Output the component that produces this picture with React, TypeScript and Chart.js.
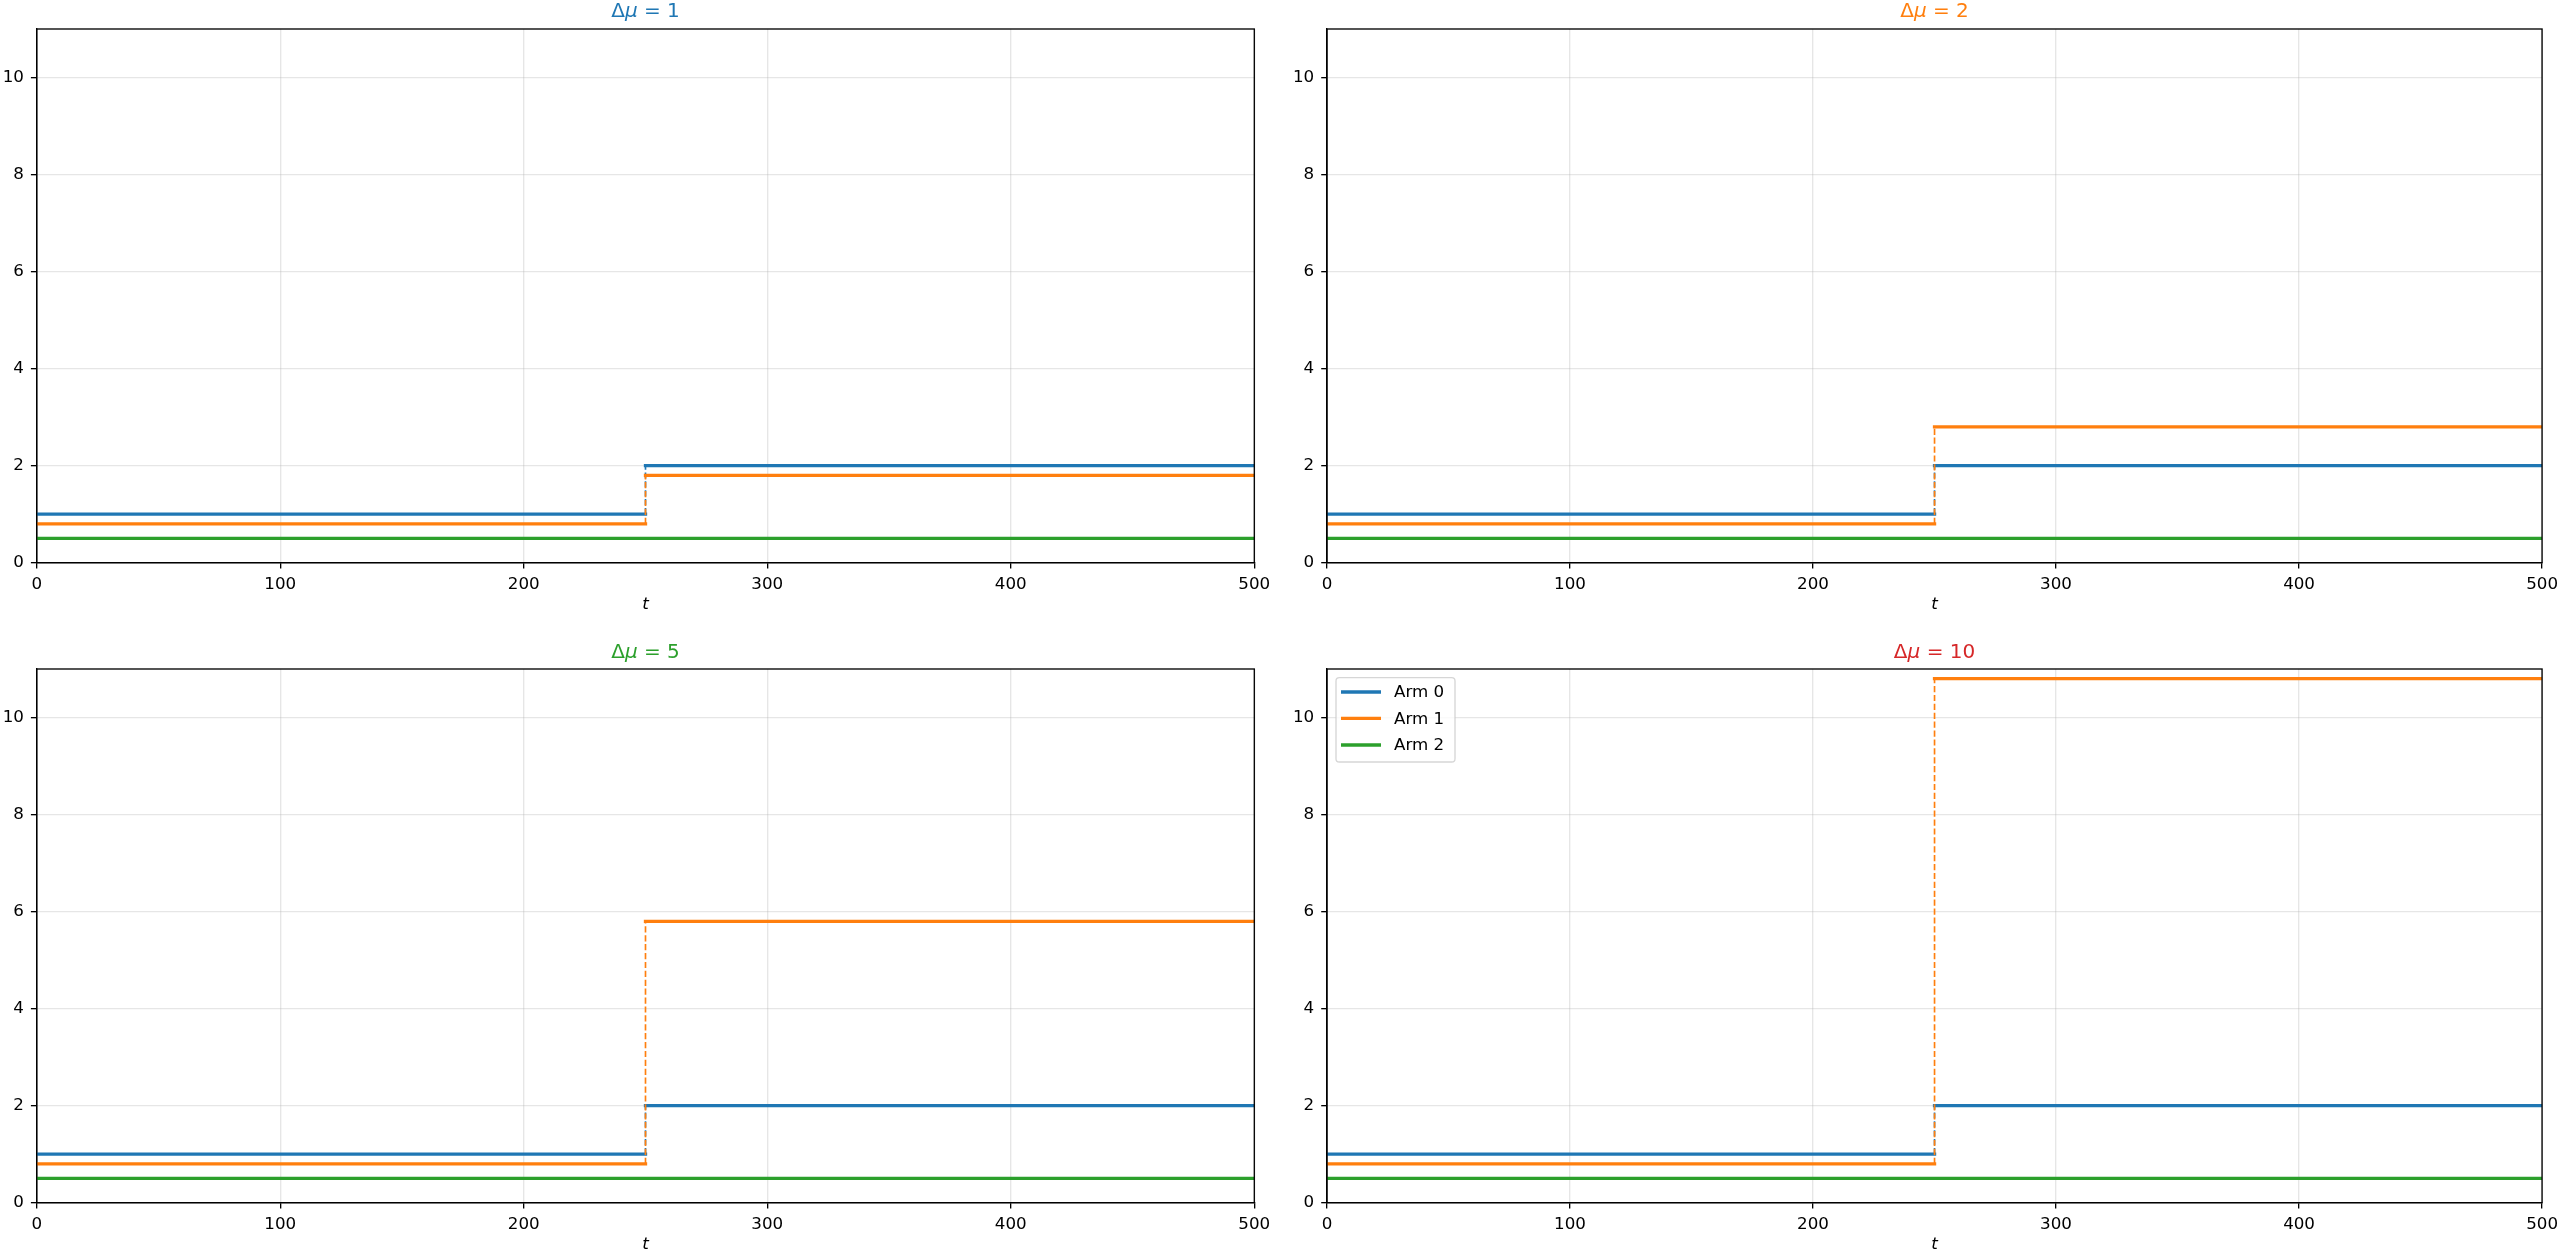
import { useEffect, useRef } from "react";
import { Chart, registerables } from "chart.js";

Chart.register(...registerables);

// ---- data ----
const deltaMu = [1, 2, 5, 10];
const titleColors = ["#1f77b4", "#ff7f0e", "#2ca02c", "#d62728"];
const armLabels = ["Arm 0", "Arm 1", "Arm 2"];
const armColors = ["#1f77b4", "#ff7f0e", "#2ca02c"];
const tStart = 0;
const changeTime = 250;
const tEnd = 500;
const arm0Before = [1, 1, 1, 1];
const arm0After = [2, 2, 2, 2];
const arm1Before = [0.8, 0.8, 0.8, 0.8];
const arm1After = [1.8, 2.8, 5.8, 10.8];
const arm2Level = [0.5, 0.5, 0.5, 0.5];
const xTickValues = [0, 100, 200, 300, 400, 500];
const yTickValues = [0, 2, 4, 6, 8, 10];
const yMin = 0;
const yMax = 11;
const legendPanel = 3;

// ---- layout (pixels) ----
const panelBoxes = [
  { left: 0, top: 0, width: 1290, height: 630, axisLeft: 36.7, padRight: 35.7, padTop: 29, xAxisH: 67.3, xTitlePad: 15 },
  { left: 1290, top: 0, width: 1274, height: 630, axisLeft: 37, padRight: 19, padTop: 29, xAxisH: 67.3, xTitlePad: 15 },
  { left: 0, top: 630, width: 1290, height: 629, axisLeft: 36.7, padRight: 35.7, padTop: 39, xAxisH: 56.3, xTitlePad: 4 },
  { left: 1290, top: 630, width: 1274, height: 629, axisLeft: 37, padRight: 19, padTop: 39, xAxisH: 56.3, xTitlePad: 4 },
];

const FONT = '"DejaVu Sans", "Liberation Sans", sans-serif';
const TICK_SIZE = 16.7;
const LW = 3.33;
const DASH_LW = 1.67;
const SPINE_LW = 1.33;

const seg = (x0: number, y0: number, x1: number, y1: number) => [
  { x: x0, y: y0 },
  { x: x1, y: y1 },
];

function buildDatasets(i: number) {
  const solid = (label: string | undefined, color: string, data: any) => ({
    label,
    data,
    borderColor: color,
    backgroundColor: color,
    borderWidth: LW,
    borderCapStyle: "square" as const,
    pointRadius: 0,
    fill: false,
    tension: 0,
    clip: 0,
  });
  const dashed = (color: string, data: any) => ({
    data,
    borderColor: color,
    backgroundColor: color,
    borderWidth: DASH_LW,
    borderDash: [6.2, 2.7],
    borderCapStyle: "butt" as const,
    pointRadius: 0,
    fill: false,
    tension: 0,
    clip: 0,
  });
  const list: any[] = [
    solid(armLabels[0], armColors[0], seg(tStart, arm0Before[i], changeTime, arm0Before[i])),
    solid(undefined, armColors[0], seg(changeTime, arm0After[i], tEnd, arm0After[i])),
    dashed(armColors[0], seg(changeTime, arm0Before[i], changeTime, arm0After[i])),
    solid(armLabels[1], armColors[1], seg(tStart, arm1Before[i], changeTime, arm1Before[i])),
    solid(undefined, armColors[1], seg(changeTime, arm1After[i], tEnd, arm1After[i])),
    dashed(armColors[1], seg(changeTime, arm1Before[i], changeTime, arm1After[i])),
    solid(armLabels[2], armColors[2], seg(tStart, arm2Level[i], tEnd, arm2Level[i])),
  ];
  list.forEach((d, k) => (d.order = -k));
  return list;
}

const framePlugin = {
  id: "frame",
  afterDatasetsDraw(chart: any) {
    const { ctx, chartArea: a } = chart;
    ctx.save();
    ctx.strokeStyle = "#000";
    ctx.lineWidth = SPINE_LW;
    ctx.strokeRect(a.left, a.top, a.right - a.left, a.bottom - a.top);
    ctx.restore();
  },
};

function makeTitlePlugin(value: number, color: string, gap: number) {
  return {
    id: "panelTitle",
    afterDraw(chart: any) {
      const { ctx, chartArea: a } = chart;
      const size = 20;
      const parts = [
        { t: "Δ", f: `${size}px ${FONT}` },
        { t: "μ", f: `italic ${size}px ${FONT}` },
        { t: ` = ${value}`, f: `${size}px ${FONT}` },
      ];
      ctx.save();
      let total = 0;
      const widths = parts.map((p) => {
        ctx.font = p.f;
        const w = ctx.measureText(p.t).width;
        total += w;
        return w;
      });
      let x = (a.left + a.right) / 2 - total / 2;
      const y = a.top - gap;
      ctx.fillStyle = color;
      ctx.textBaseline = "alphabetic";
      ctx.textAlign = "left";
      parts.forEach((p, k) => {
        ctx.font = p.f;
        ctx.fillText(p.t, x, y);
        x += widths[k];
      });
      ctx.restore();
    },
  };
}

const legendPlugin = {
  id: "innerLegend",
  afterDraw(chart: any) {
    const { ctx, chartArea: a } = chart;
    const bx = a.left + 9;
    const by = a.top + 8.7;
    const bw = 119;
    const bh = 84.3;
    const r = 3.3;
    ctx.save();
    ctx.beginPath();
    ctx.moveTo(bx + r, by);
    ctx.lineTo(bx + bw - r, by);
    ctx.arcTo(bx + bw, by, bx + bw, by + r, r);
    ctx.lineTo(bx + bw, by + bh - r);
    ctx.arcTo(bx + bw, by + bh, bx + bw - r, by + bh, r);
    ctx.lineTo(bx + r, by + bh);
    ctx.arcTo(bx, by + bh, bx, by + bh - r, r);
    ctx.lineTo(bx, by + r);
    ctx.arcTo(bx, by, bx + r, by, r);
    ctx.closePath();
    ctx.fillStyle = "rgba(255,255,255,0.8)";
    ctx.fill();
    ctx.strokeStyle = "rgba(204,204,204,0.8)";
    ctx.lineWidth = SPINE_LW;
    ctx.stroke();
    const rows = [14.3, 40.6, 67.3];
    armLabels.forEach((label, k) => {
      const cy = by + rows[k];
      ctx.beginPath();
      ctx.moveTo(bx + 5, cy);
      ctx.lineTo(bx + 45, cy);
      ctx.strokeStyle = armColors[k];
      ctx.lineWidth = LW;
      ctx.lineCap = "butt";
      ctx.stroke();
      ctx.fillStyle = "#000";
      ctx.font = `${TICK_SIZE}px ${FONT}`;
      ctx.textBaseline = "middle";
      ctx.textAlign = "left";
      ctx.fillText(label, bx + 58, cy + 1);
    });
    ctx.restore();
  },
};

function Panel({ index }: { index: number }) {
  const ref = useRef<HTMLCanvasElement | null>(null);
  const box = panelBoxes[index];
  useEffect(() => {
    if (!ref.current) return;
    const gridColor = "rgba(176,176,176,0.32)";
    const plugins: any[] = [framePlugin, makeTitlePlugin(deltaMu[index], titleColors[index], index < 2 ? 11.8 : 11)];
    if (index === legendPanel) plugins.push(legendPlugin);
    const chart = new Chart(ref.current, {
      type: "line",
      data: { datasets: buildDatasets(index) },
      plugins,
      options: {
        animation: false,
        responsive: false,
        events: [],
        layout: { padding: { left: 0, right: box.padRight, top: box.padTop, bottom: 0 } },
        plugins: {
          legend: { display: false },
          tooltip: { enabled: false },
          title: { display: false },
        },
        scales: {
          x: {
            type: "linear",
            min: tStart,
            max: tEnd,
            position: "bottom",
            afterBuildTicks: (s: any) => {
              s.ticks = xTickValues.map((v) => ({ value: v }));
            },
            afterFit: (s: any) => {
              s.height = box.xAxisH;
            },
            grid: {
              color: gridColor,
              lineWidth: 1.33,
              tickLength: 5.8,
              tickColor: "#000",
              tickWidth: 1.33,
              drawOnChartArea: true,
            },
            border: { display: true, color: "#000", width: SPINE_LW },
            ticks: {
              color: "#000",
              font: { family: FONT, size: TICK_SIZE },
              padding: 6,
              maxRotation: 0,
              autoSkip: false,
            },
            title: {
              display: true,
              text: "t",
              color: "#000",
              font: { family: FONT, size: TICK_SIZE, style: "italic" },
              padding: { top: 0, bottom: box.xTitlePad },
            },
          },
          y: {
            type: "linear",
            min: yMin,
            max: yMax,
            afterBuildTicks: (s: any) => {
              s.ticks = yTickValues.map((v) => ({ value: v }));
            },
            afterFit: (s: any) => {
              s.width = box.axisLeft;
            },
            grid: {
              color: gridColor,
              lineWidth: 1.33,
              tickLength: 5.8,
              tickColor: "#000",
              tickWidth: 1.33,
            },
            border: { display: true, color: "#000", width: SPINE_LW },
            ticks: {
              color: "#000",
              font: { family: FONT, size: TICK_SIZE },
              padding: 7,
              autoSkip: false,
            },
          },
        },
      } as any,
    });
    return () => chart.destroy();
  }, [index]);
  return (
    <canvas
      ref={ref}
      width={box.width}
      height={box.height}
      style={{ position: "absolute", left: box.left, top: box.top, width: box.width, height: box.height }}
    />
  );
}

export default function App() {
  useEffect(() => {
    document.body.style.margin = "0";
    document.body.style.overflow = "hidden";
  }, []);
  return (
    <div style={{ position: "absolute", left: 0, top: 0, width: 2564, height: 1259, background: "#fff", overflow: "hidden" }}>
      {deltaMu.map((_, i) => (
        <Panel key={i} index={i} />
      ))}
    </div>
  );
}
